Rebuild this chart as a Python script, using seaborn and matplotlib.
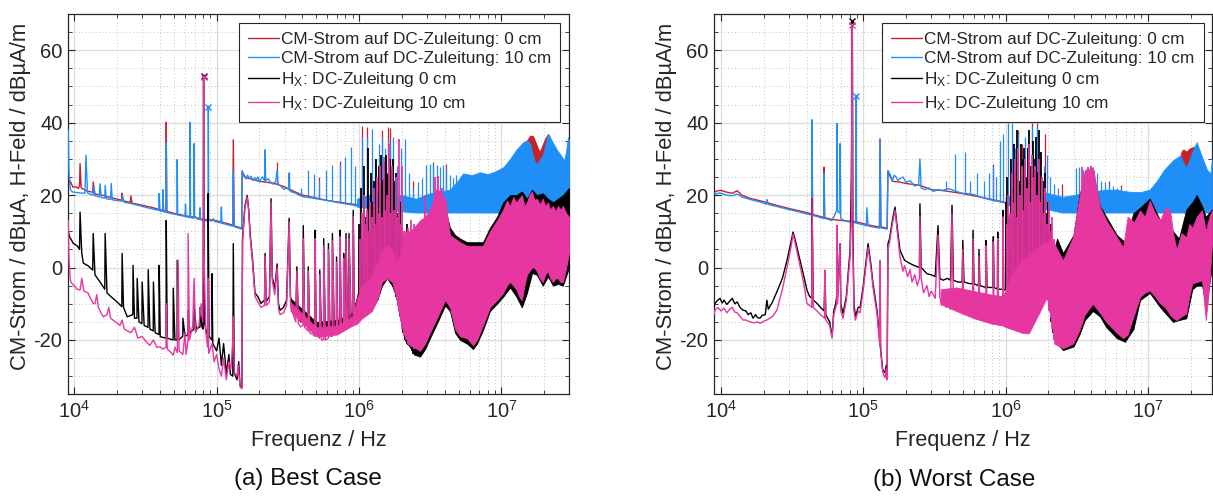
import numpy as np
import pandas as pd
import matplotlib
matplotlib.use("Agg")
import matplotlib.pyplot as plt
import seaborn as sns
from matplotlib.lines import Line2D
from matplotlib.ticker import LogLocator, MultipleLocator, NullFormatter

# ---------------------------------------------------------------- data
# (frequency in Hz, level in dB)
# ---- panel (a) Best Case
A_RED_LINE = [
    (9.08e3, 22.5), (9.4e3, 23.8), (9.8e3, 22.2), (1.03e4, 22.3), (1.07e4, 21.8), (1.09e4, 22.5),
    (1.10e4, 28.7), (1.12e4, 22.0), (1.2e4, 21.3), (1.27e4, 21.0), (1.35e4, 20.8), (1.36e4, 23.6),
    (1.4e4, 20.3), (1.6e4, 19.9), (1.8e4, 19.3), (2.0e4, 18.9), (2.16e4, 18.6), (2.17e4, 20.5),
    (2.2e4, 18.4), (2.48e4, 18.0), (2.5e4, 19.8), (2.55e4, 17.8), (3.0e4, 17.2), (3.5e4, 16.6),
    (4.0e4, 16.0), (4.41e4, 15.6), (4.43e4, 40.1), (4.47e4, 15.5), (5.0e4, 15.0), (6.0e4, 14.3),
    (7.0e4, 13.9), (8.0e4, 13.3), (9.0e4, 13.2), (1.0e5, 12.9), (1.2e5, 12.1), (1.3e5, 11.7),
    (1.31e5, 35.3), (1.33e5, 11.5), (1.46e5, 11.0), (1.5e5, 10.8), (1.51e5, 26.5), (1.6e5, 24.8),
    (1.8e5, 24.3), (2.0e5, 23.8), (2.5e5, 23.3), (3.0e5, 22.3), (3.5e5, 21.0), (4.0e5, 20.0),
    (5.0e5, 19.2), (6.0e5, 18.5), (8.0e5, 17.8), (9.7e5, 17.3),
]
A_RED_SPIKES = [  # (f, bottom, top)
    (2.66e5, 23.0, 29.1), (3.23e5, 22.0, 26.5), (5.2e5, 19.0, 25.0), (7.35e5, 18.0, 29.5),
    (1.05e6, 17.0, 39.0), (1.13e6, 17.0, 38.7), (1.44e6, 16.5, 38.0), (1.59e6, 16.3, 38.7),
    (1.65e6, 16.2, 38.5), (2.4e6, 15.5, 24.0), (3.3e6, 15.5, 29.0), (4.1e6, 15.5, 28.5),
]
A_RED_BAND = [  # (f, low, high)
    (1.46e7, 15.5, 34.5), (1.535e7, 15.5, 35.5), (1.585e7, 15.5, 36.4), (1.66e7, 15.5, 36.4),
    (1.72e7, 15.5, 35.0), (1.80e7, 15.5, 33.0), (1.86e7, 15.5, 32.0), (1.95e7, 15.5, 34.0),
    (2.02e7, 15.5, 35.5), (2.12e7, 15.5, 36.9), (2.19e7, 15.5, 36.0),
]
A_BLUE_LINE = [
    (9.08e3, 38.0), (9.2e3, 26.0), (9.4e3, 21.5), (9.7e3, 20.9), (1.0e4, 20.8), (1.1e4, 20.6),
    (1.19e4, 20.5), (1.21e4, 31.0), (1.24e4, 20.6), (1.3e4, 20.2), (1.36e4, 20.0), (1.37e4, 22.5),
    (1.4e4, 19.8), (1.5e4, 19.5), (1.52e4, 23.1), (1.55e4, 19.3), (1.64e4, 19.2), (1.65e4, 22.7),
    (1.68e4, 19.0), (1.8e4, 18.8), (1.82e4, 23.2), (1.85e4, 18.7), (2.0e4, 18.5), (2.17e4, 18.3),
    (2.18e4, 19.8), (2.25e4, 18.0), (2.5e4, 17.7), (2.8e4, 17.2), (3.2e4, 16.6), (3.6e4, 16.1),
    (3.93e4, 15.8), (3.95e4, 20.4), (4.0e4, 15.6), (4.18e4, 15.5), (4.2e4, 21.5), (4.25e4, 15.4),
    (4.41e4, 15.3), (4.43e4, 34.6), (4.47e4, 15.2), (4.8e4, 14.9), (5.27e4, 14.6), (5.29e4, 29.8),
    (5.33e4, 14.5), (5.7e4, 14.3), (6.0e4, 14.1), (6.05e4, 17.5), (6.1e4, 14.0), (6.5e4, 13.8),
    (6.52e4, 40.1), (6.56e4, 13.8), (6.93e4, 13.6), (6.95e4, 34.2), (7.0e4, 14.2), (7.3e4, 13.4),
    (7.6e4, 13.3), (7.65e4, 16.5), (7.7e4, 13.2), (8.0e4, 13.0), (8.4e4, 12.9), (8.73e4, 12.9),
    (8.75e4, 44.3), (8.8e4, 13.2), (9.2e4, 12.8), (9.5e4, 13.5), (9.7e4, 12.7), (1.01e5, 12.6),
    (1.07e5, 12.3), (1.08e5, 16.7), (1.09e5, 12.2), (1.15e5, 12.0), (1.22e5, 11.7), (1.3e5, 11.4),
    (1.31e5, 26.8), (1.32e5, 14.0), (1.33e5, 11.3), (1.4e5, 11.0), (1.46e5, 10.8), (1.5e5, 10.6),
    (1.51e5, 26.8), (1.55e5, 25.3), (1.6e5, 24.5), (1.65e5, 25.5), (1.7e5, 24.6), (1.75e5, 25.2),
    (1.8e5, 24.0), (1.85e5, 24.8), (1.9e5, 24.2), (1.95e5, 25.0), (2.0e5, 23.6), (2.05e5, 24.5),
    (2.1e5, 25.0), (2.17e5, 24.0), (2.19e5, 32.5), (2.21e5, 24.0), (2.3e5, 24.5), (2.4e5, 23.5),
    (2.5e5, 23.0), (2.6e5, 23.8), (2.66e5, 26.8), (2.7e5, 23.0), (2.8e5, 22.6), (2.9e5, 22.0),
    (3.0e5, 21.6), (3.1e5, 22.0), (3.22e5, 21.5), (3.23e5, 26.0), (3.26e5, 21.2), (3.4e5, 20.8),
    (3.6e5, 20.5), (3.8e5, 20.0), (4.0e5, 19.6), (4.5e5, 19.3), (5.0e5, 19.0), (6.0e5, 18.5),
    (7.0e5, 18.0), (8.0e5, 17.6), (9.0e5, 17.3), (9.7e5, 17.0),
]
A_BLUE_SPIKES = [
    (3.9e5, 19.8, 22.0), (4.4e5, 19.4, 26.8), (4.8e5, 19.2, 25.9), (5.2e5, 19.0, 24.0),
    (5.9e5, 18.6, 26.8), (6.5e5, 18.3, 28.2), (7.35e5, 18.0, 28.7), (8.0e5, 17.6, 30.5),
    (8.85e5, 17.3, 33.2), (9.3e5, 17.1, 28.0), (1.05e6, 17.0, 36.0), (1.13e6, 16.8, 36.0),
    (1.23e6, 16.6, 38.3), (1.29e6, 16.5, 30.0), (1.37e6, 16.4, 34.2), (1.44e6, 16.3, 36.0),
    (1.52e6, 16.2, 33.0), (1.59e6, 16.1, 35.0), (1.65e6, 16.0, 34.0), (1.73e6, 15.9, 36.0),
    (1.85e6, 15.8, 28.0), (1.98e6, 15.6, 33.0), (2.1e6, 15.5, 35.5), (2.26e6, 15.4, 26.0),
    (2.4e6, 15.3, 22.0), (2.6e6, 15.2, 23.6), (2.75e6, 15.2, 24.7), (2.97e6, 15.2, 28.2),
    (3.15e6, 15.2, 28.7), (3.33e6, 15.2, 28.7), (3.5e6, 15.2, 28.2), (3.7e6, 15.2, 27.7),
    (3.9e6, 15.2, 28.2), (4.1e6, 15.2, 27.5), (4.35e6, 15.2, 25.5), (4.6e6, 15.2, 24.7),
    (4.8e6, 15.2, 25.5),
]
A_BLUE_BAND = [
    (9.68e5, 16.8, 19.0), (1.4e6, 16.0, 21.0), (2.0e6, 15.5, 20.0), (2.51e6, 15.2, 19.0),
    (3.15e6, 15.2, 20.5), (4.35e6, 15.2, 21.5), (4.95e6, 15.2, 24.0), (5.37e6, 15.2, 26.0),
    (6.2e6, 15.2, 25.5), (7.07e6, 15.2, 26.3), (8.0e6, 15.2, 25.8), (9.0e6, 15.2, 26.5),
    (1.03e7, 15.2, 27.7), (1.15e7, 15.2, 30.0), (1.27e7, 15.2, 32.5), (1.42e7, 15.2, 34.6),
    (1.535e7, 15.2, 35.0), (1.60e7, 15.2, 34.0), (1.66e7, 15.2, 31.0), (1.72e7, 15.2, 29.0),
    (1.80e7, 15.2, 28.7), (1.86e7, 15.2, 30.0), (1.95e7, 15.2, 31.0), (2.02e7, 15.2, 33.5),
    (2.12e7, 15.2, 36.9), (2.26e7, 15.2, 35.0), (2.45e7, 15.2, 32.5), (2.57e7, 15.2, 31.4),
    (2.75e7, 15.2, 29.6), (2.84e7, 15.2, 32.0), (2.93e7, 15.2, 36.0), (3.0e7, 15.2, 35.0),
]
A_BLACK_LINE = [
    (9.08e3, 10.0), (9.3e3, 8.4), (9.6e3, 7.5), (9.84e3, 6.7), (1.05e4, 6.0), (1.09e4, 5.0),
    (1.10e4, 15.3), (1.13e4, 4.0), (1.16e4, 1.2), (1.25e4, 0.5), (1.35e4, -0.7), (1.36e4, 9.4),
    (1.4e4, -2.0), (1.52e4, -4.0), (1.64e4, -6.0), (1.65e4, 9.4), (1.7e4, -7.0), (1.82e4, -8.1),
    (2.0e4, -9.5), (2.16e4, -10.8), (2.17e4, 3.9), (2.22e4, -11.0), (2.36e4, -13.6), (2.58e4, -13.0),
    (2.59e4, 0.6), (2.65e4, -14.0), (2.76e4, -14.0), (2.77e4, -3.0), (2.85e4, -15.0), (2.99e4, -15.5),
    (3.0e4, -4.0), (3.1e4, -16.0), (3.3e4, -16.5), (3.31e4, -0.6), (3.4e4, -17.0), (3.59e4, -17.5),
    (3.6e4, -4.0), (3.7e4, -18.0), (3.94e4, -18.5), (3.95e4, 0.6), (4.02e4, -19.1), (4.42e4, -19.5),
    (4.43e4, 13.0), (4.5e4, -19.5), (4.95e4, -20.0), (4.96e4, -5.7), (5.1e4, -20.0), (5.28e4, -20.0),
    (5.29e4, 2.0), (5.4e4, -20.0), (5.79e4, -19.0), (5.8e4, -14.0), (6.0e4, -19.0), (6.3e4, -18.5),
    (6.31e4, -11.8), (6.5e4, -18.0), (6.94e4, -17.0), (6.95e4, -10.5), (7.2e4, -17.0), (7.65e4, -16.4),
    (7.66e4, -11.0), (7.9e4, -16.5), (8.05e4, -17.0), (8.1e4, 53.0), (8.2e4, -15.0), (8.5e4, -18.0),
    (8.7e4, -18.5), (8.72e4, 20.4), (8.85e4, -19.0), (9.28e4, -20.0), (9.29e4, -1.7), (9.4e4, -21.0),
    (1.0e5, -23.0), (1.04e5, -19.5), (1.08e5, -27.0), (1.12e5, -21.0), (1.17e5, -29.2), (1.22e5, -24.0),
    (1.25e5, -29.5), (1.3e5, -30.0), (1.31e5, 6.6), (1.33e5, -29.0), (1.39e5, -31.0), (1.43e5, -26.0),
    (1.46e5, -32.5), (1.505e5, -33.0),
    (1.52e5, 8.0), (1.58e5, 17.0), (1.64e5, 19.9), (1.68e5, 16.0), (1.72e5, 9.3), (1.79e5, 2.0),
    (1.86e5, -7.0), (1.95e5, -8.1), (2.05e5, -9.9), (2.17e5, -9.0), (2.19e5, 3.9), (2.23e5, -9.4),
    (2.35e5, -8.0), (2.41e5, 19.0), (2.46e5, -2.6), (2.56e5, -6.0), (2.66e5, 1.0), (2.72e5, -10.0),
    (2.79e5, -11.8), (2.95e5, -11.0), (3.1e5, -9.0), (3.23e5, 13.6), (3.3e5, -8.0), (3.45e5, -11.8),
    (3.6e5, -13.6), (3.66e5, 0.2), (3.75e5, -14.0), (3.9e5, -15.0), (4.05e5, -14.5), (4.06e5, 11.6),
    (4.15e5, -15.0), (4.39e5, -16.0), (4.4e5, 0.2), (4.5e5, -16.4), (4.75e5, -17.0), (4.89e5, -17.3),
    (4.9e5, 10.3), (5.0e5, -17.0), (5.29e5, -18.0), (5.3e5, -0.7), (5.45e5, -18.5), (5.64e5, -19.0),
    (5.65e5, 8.0), (5.8e5, -19.0), (6.09e5, -18.5), (6.1e5, 6.6), (6.25e5, -18.0), (6.49e5, -18.0),
    (6.5e5, 9.4), (6.7e5, -17.5), (6.94e5, -17.0), (6.95e5, 2.9), (7.1e5, -17.0), (7.34e5, -16.5),
    (7.35e5, 10.3), (7.5e5, -16.5), (7.79e5, -16.0), (7.8e5, 3.9), (7.95e5, -16.0), (8.09e5, -15.5),
    (8.1e5, 9.4), (8.3e5, -15.5), (8.49e5, -15.0), (8.5e5, 9.4), (8.8e5, -15.0), (9.09e5, -14.5),
    (9.1e5, 15.8), (9.3e5, -14.5), (9.68e5, -14.0),
]
A_BLACK_FOREST = [  # dense comb 1-2.4 MHz: (f, bottom, top)
    (1.00e6, -13.5, 12.0), (1.03e6, -13.0, 22.0), (1.06e6, -13.0, 8.0), (1.09e6, -12.5, 28.0),
    (1.12e6, -12.0, 14.0), (1.15e6, -12.0, 33.0), (1.18e6, -11.5, 10.0), (1.21e6, -11.0, 26.0),
    (1.25e6, -10.5, 18.0), (1.28e6, -10.0, 24.0), (1.32e6, -9.5, 30.0), (1.35e6, -9.0, 16.0),
    (1.39e6, -7.5, 28.0), (1.43e6, -6.0, 31.0), (1.47e6, -4.5, 20.0), (1.51e6, -4.0, 29.0),
    (1.55e6, -3.5, 31.0), (1.59e6, -3.0, 22.0), (1.64e6, -3.5, 30.0), (1.68e6, -4.5, 27.0),
    (1.73e6, -5.5, 30.0), (1.78e6, -6.5, 24.0), (1.83e6, -8.0, 26.0), (1.88e6, -10.0, 15.0),
    (1.93e6, -13.5, 18.0), (1.99e6, -16.0, 10.0), (2.04e6, -18.0, 8.0), (2.10e6, -20.0, 6.0),
    (2.16e6, -21.0, 12.0), (2.22e6, -21.5, 4.0), (2.28e6, -22.0, 6.0), (2.35e6, -23.0, 3.0),
    (2.41e6, -24.0, 4.0),
]
A_BLACK_BAND = [
    (3.3e5, -11.0, -8.5), (5.0e5, -17.5, -15.0), (7.0e5, -17.0, -14.5), (9.0e5, -15.0, -12.5),
    (9.68e5, -14.0, -8.0), (1.05e6, -13.0, -2.0), (1.14e6, -12.0, 2.0), (1.23e6, -11.0, 6.0),
    (1.34e6, -9.0, 15.0), (1.45e6, -5.0, 24.0), (1.57e6, -3.0, 26.0), (1.71e6, -5.0, 24.0),
    (1.82e6, -8.0, 14.0), (1.94e6, -14.0, 2.0), (2.10e6, -20.0, 4.0), (2.28e6, -22.0, 6.0),
    (2.43e6, -24.0, 4.0), (2.68e6, -24.6, 4.0), (2.91e6, -22.5, 8.0), (3.15e6, -19.5, 12.0),
    (3.52e6, -15.5, 14.0), (4.02e6, -10.5, 16.0), (4.35e6, -12.0, 11.0), (4.72e6, -18.0, 9.0),
    (5.12e6, -20.0, 8.0), (5.73e6, -21.0, 7.0), (6.31e6, -22.5, 7.0), (6.73e6, -21.0, 7.0),
    (7.41e6, -17.3, 7.0), (8.30e6, -12.0, 11.0), (9.30e6, -10.0, 14.0), (1.03e7, -8.0, 18.0),
    (1.15e7, -5.5, 20.0), (1.27e7, -8.0, 20.0), (1.39e7, -11.0, 21.0), (1.51e7, -7.0, 19.0),
    (1.64e7, -1.5, 21.5), (1.77e7, -2.0, 20.0), (1.95e7, -5.0, 20.5), (2.12e7, -2.5, 19.0),
    (2.30e7, -5.0, 18.0), (2.49e7, -4.5, 19.0), (2.70e7, -5.0, 20.0), (2.98e7, 0.0, 22.0),
]
A_PINK_LINE = [
    (9.08e3, 13.0), (9.2e3, 2.0), (9.4e3, -3.5), (9.6e3, -4.3), (1.0e4, -5.0), (1.05e4, -6.0),
    (1.1e4, -6.2), (1.13e4, -3.0), (1.17e4, -6.5), (1.25e4, -7.0), (1.3e4, -8.5), (1.36e4, -9.9),
    (1.4e4, -10.0), (1.44e4, -7.5), (1.48e4, -11.0), (1.52e4, -12.0), (1.6e4, -13.6), (1.7e4, -13.0),
    (1.75e4, -11.0), (1.8e4, -14.0), (1.95e4, -15.0), (2.1e4, -16.0), (2.17e4, -14.5), (2.25e4, -17.0),
    (2.5e4, -18.0), (2.65e4, -16.5), (2.8e4, -19.5), (3.0e4, -19.0), (3.2e4, -20.5), (3.4e4, -21.5),
    (3.6e4, -20.0), (3.8e4, -22.0), (4.0e4, -21.9), (4.2e4, -22.5), (4.42e4, -22.0), (4.43e4, -10.0),
    (4.5e4, -22.5), (4.8e4, -23.5), (4.96e4, -24.2), (5.1e4, -22.0), (5.3e4, -23.5), (5.37e4, 2.0),
    (5.45e4, -23.0), (5.8e4, -24.0), (6.0e4, -18.0), (6.1e4, -24.0), (6.3e4, -20.0), (6.31e4, 9.4),
    (6.45e4, -20.0), (6.8e4, -16.0), (6.95e4, -3.0), (7.1e4, -18.0), (7.5e4, -16.0), (7.8e4, -10.0),
    (8.0e4, -15.0), (8.07e4, 13.0), (8.1e4, 52.7), (8.15e4, 5.0), (8.4e4, -18.0), (8.65e4, -22.0),
    (8.7e4, -3.0), (8.8e4, -23.7), (9.3e4, -21.0), (9.6e4, -26.0), (1.0e5, -24.0), (1.04e5, -28.0),
    (1.08e5, -30.0), (1.12e5, -25.0), (1.17e5, -31.0), (1.22e5, -26.0), (1.26e5, -28.0), (1.3e5, -20.0),
    (1.31e5, -13.6), (1.33e5, -29.0), (1.39e5, -30.0), (1.42e5, -27.0), (1.46e5, -32.9), (1.505e5, -33.5),
    (1.52e5, 7.0), (1.58e5, 16.5), (1.64e5, 19.5), (1.68e5, 15.5), (1.72e5, 8.5), (1.79e5, 1.0),
    (1.86e5, -8.0), (1.95e5, -9.5), (2.05e5, -11.0), (2.17e5, -10.5), (2.19e5, 3.0), (2.23e5, -10.5),
    (2.35e5, -9.5), (2.41e5, 18.0), (2.46e5, -3.5), (2.56e5, -7.5), (2.66e5, 0.0), (2.72e5, -11.5),
    (2.79e5, -13.0), (2.95e5, -12.5), (3.1e5, -10.5), (3.23e5, 12.5), (3.3e5, -9.5), (3.45e5, -13.0),
    (3.6e5, -15.0), (3.66e5, -1.0), (3.75e5, -15.5), (3.9e5, -16.4), (4.05e5, -16.0), (4.06e5, 8.0),
    (4.15e5, -16.5), (4.39e5, -17.5), (4.4e5, -1.0), (4.5e5, -18.0), (4.75e5, -18.5), (4.89e5, -19.0),
    (4.9e5, 8.0), (5.0e5, -18.5), (5.29e5, -19.5), (5.3e5, -2.0), (5.45e5, -20.0), (5.64e5, -20.0),
    (5.65e5, 6.0), (5.8e5, -20.0), (6.09e5, -19.5), (6.1e5, 5.0), (6.25e5, -19.0), (6.49e5, -19.0),
    (6.5e5, 7.5), (6.7e5, -18.5), (6.94e5, -18.0), (6.95e5, 1.5), (7.1e5, -18.0), (7.34e5, -17.5),
    (7.35e5, 8.5), (7.5e5, -17.5), (7.79e5, -17.0), (7.8e5, 2.5), (7.95e5, -17.0), (8.09e5, -16.5),
    (8.1e5, 8.0), (8.3e5, -16.5), (8.49e5, -16.0), (8.5e5, 8.0), (8.8e5, -16.0), (9.09e5, -15.5),
    (9.1e5, 14.0), (9.3e5, -15.5), (9.68e5, -15.5),
]
A_PINK_FOREST = [
    (1.015e6, -14.5, 8.0), (1.045e6, -14.0, 15.0), (1.075e6, -13.5, 20.0), (1.105e6, -13.0, 12.0),
    (1.135e6, -13.0, 16.0), (1.165e6, -12.5, 10.0), (1.195e6, -12.0, 18.0), (1.23e6, -12.0, 14.0),
    (1.265e6, -11.0, 22.0), (1.30e6, -10.0, 12.0), (1.335e6, -9.0, 25.0), (1.37e6, -8.0, 15.0),
    (1.41e6, -6.0, 28.0), (1.45e6, -4.0, 14.0), (1.49e6, -3.5, 30.5), (1.53e6, -3.0, 16.0),
    (1.57e6, -3.0, 20.0), (1.615e6, -3.0, 34.0), (1.66e6, -3.5, 15.0), (1.705e6, -4.0, 28.0),
    (1.755e6, -5.0, 16.0), (1.805e6, -6.5, 25.0), (1.855e6, -8.0, 14.0), (1.905e6, -11.0, 35.5),
    (1.96e6, -14.0, 12.0), (2.015e6, -17.0, 28.0), (2.07e6, -19.0, 10.0), (2.13e6, -20.0, 9.0),
    (2.19e6, -21.0, 11.0), (2.25e6, -21.5, 8.0), (2.315e6, -22.0, 13.0), (2.38e6, -22.0, 10.0),
    (2.45e6, -22.5, 12.0), (2.9e6, 0.0, 20.0), (3.4e6, 0.0, 25.0), (3.6e6, 0.0, 25.4),
    (3.85e6, 0.0, 22.0),
]
A_PINK_BAND = [
    (3.3e5, -12.0, -9.5), (5.0e5, -19.0, -16.5), (7.0e5, -18.5, -16.0), (9.0e5, -16.0, -13.5),
    (9.68e5, -15.5, -8.5), (1.05e6, -14.0, -5.0), (1.14e6, -13.0, -4.0), (1.23e6, -12.0, -2.0),
    (1.34e6, -9.0, 1.0), (1.45e6, -4.0, 5.0), (1.57e6, -3.0, 6.0), (1.71e6, -4.0, 5.0),
    (1.82e6, -8.0, 1.0), (1.94e6, -14.0, 4.0), (2.10e6, -19.0, 10.0), (2.28e6, -21.0, 10.0),
    (2.43e6, -22.0, 11.0), (2.68e6, -23.0, 13.0), (2.91e6, -21.0, 14.0), (3.15e6, -18.0, 16.0),
    (3.52e6, -14.0, 22.0), (4.02e6, -9.0, 19.0), (4.35e6, -11.0, 9.0), (4.72e6, -17.0, 8.0),
    (5.12e6, -19.0, 7.0), (5.73e6, -19.5, 6.0), (6.31e6, -21.5, 6.0), (6.73e6, -20.0, 6.0),
    (7.41e6, -16.0, 6.0), (8.30e6, -11.0, 10.0), (9.30e6, -9.0, 13.0), (1.03e7, -7.0, 16.0),
    (1.09e7, -5.0, 18.5), (1.15e7, -4.0, 17.0), (1.21e7, -5.0, 19.5), (1.27e7, -6.0, 18.0),
    (1.33e7, -8.0, 19.0), (1.39e7, -9.0, 20.0), (1.45e7, -5.0, 17.0), (1.51e7, -2.0, 18.0),
    (1.57e7, -1.0, 20.0), (1.64e7, 0.0, 21.0), (1.70e7, 0.0, 18.5), (1.77e7, -1.0, 19.0),
    (1.86e7, -3.0, 17.5), (1.95e7, -4.0, 19.0), (2.03e7, -2.0, 17.0), (2.12e7, -1.0, 18.0),
    (2.20e7, -3.0, 16.0), (2.30e7, -4.0, 17.0), (2.40e7, -3.0, 15.5), (2.49e7, -3.0, 17.0),
    (2.60e7, -4.0, 16.0), (2.70e7, -4.0, 17.0), (2.85e7, 0.0, 15.0), (2.98e7, 4.0, 14.0),
]
A_MARKS = [("black", 8.1e4, 53.0), ("pink", 8.1e4, 52.7), ("blue", 8.75e4, 44.3)]

# ---- panel (b) Worst Case
B_RED_LINE = [
    (8.93e3, 20.8), (9.5e3, 21.2), (1.0e4, 21.3), (1.1e4, 20.8), (1.2e4, 20.5), (1.3e4, 21.2),
    (1.4e4, 20.0), (1.6e4, 19.1), (1.9e4, 18.4), (2.5e4, 17.1), (3.0e4, 16.3), (3.6e4, 15.6),
    (4.35e4, 14.8), (4.36e4, 40.0), (4.4e4, 14.7), (5.29e4, 13.8), (5.3e4, 27.7), (5.35e4, 13.8),
    (6.0e4, 13.3), (7.0e4, 13.0), (8.0e4, 12.8), (9.0e4, 12.6), (1.0e5, 12.1), (1.2e5, 11.4),
    (1.3e5, 11.2), (1.31e5, 35.5), (1.33e5, 11.2), (1.47e5, 10.9), (1.49e5, 26.5), (1.6e5, 23.8),
    (1.8e5, 23.6), (2.0e5, 23.2), (2.5e5, 22.7), (3.0e5, 21.5), (3.5e5, 21.3), (4.0e5, 21.0),
    (5.0e5, 20.4), (6.0e5, 19.8), (8.0e5, 18.8), (1.0e6, 17.9),
]
B_RED_SPIKES = [
    (8.2e5, 18.5, 28.7), (1.22e6, 17.3, 38.0), (1.3e6, 17.2, 34.0), (1.44e6, 17.0, 34.5),
    (1.53e6, 16.9, 40.0), (1.67e6, 16.7, 40.0), (1.9e6, 16.5, 37.0), (2.5e6, 16.0, 23.0),
    (5.3e6, 15.5, 24.0), (6.5e6, 15.5, 22.8),
]
B_RED_BAND = [
    (1.7e7, 15.5, 31.4), (1.75e7, 15.5, 32.5), (1.8e7, 15.5, 32.5), (1.86e7, 15.5, 32.0),
    (1.95e7, 15.5, 32.8), (2.05e7, 15.5, 33.2), (2.12e7, 15.5, 33.4),
]
B_BLUE_LINE = [
    (8.93e3, 20.5), (9.3e3, 20.3), (9.7e3, 20.6), (1.0e4, 20.5), (1.05e4, 20.2), (1.1e4, 20.0),
    (1.2e4, 19.8), (1.3e4, 20.3), (1.4e4, 19.5), (1.6e4, 18.8), (1.88e4, 18.1), (2.09e4, 17.5),
    (2.1e4, 18.8), (2.15e4, 17.4), (2.5e4, 16.8), (3.0e4, 16.0), (3.6e4, 15.3), (4.0e4, 14.8),
    (4.35e4, 14.5), (4.36e4, 40.8), (4.4e4, 14.4), (4.8e4, 14.0), (5.29e4, 13.5), (5.3e4, 26.0),
    (5.35e4, 13.6), (6.0e4, 13.0), (6.3e4, 14.5), (6.52e4, 16.0), (6.53e4, 39.8), (6.6e4, 15.5),
    (6.85e4, 15.0), (6.86e4, 34.2), (6.95e4, 13.5), (7.5e4, 12.8), (8.0e4, 12.6), (8.3e4, 12.5),
    (8.88e4, 12.3), (8.89e4, 47.3), (8.95e4, 12.3), (9.5e4, 12.0), (1.0e5, 11.8), (1.05e5, 11.5),
    (1.06e5, 16.5), (1.08e5, 11.5), (1.2e5, 11.1), (1.3e5, 10.9), (1.31e5, 35.5), (1.33e5, 10.9),
    (1.4e5, 10.8), (1.47e5, 10.6), (1.49e5, 26.8), (1.55e5, 25.5), (1.6e5, 24.0), (1.65e5, 25.5),
    (1.7e5, 25.0), (1.75e5, 24.0), (1.8e5, 24.5), (1.9e5, 25.0), (2.0e5, 23.5), (2.13e5, 24.0),
    (2.3e5, 22.5), (2.45e5, 23.0), (2.5e5, 30.0), (2.55e5, 22.0), (2.7e5, 21.5), (2.9e5, 22.0),
    (3.1e5, 21.0), (3.35e5, 21.5), (3.6e5, 21.3), (4.0e5, 21.8), (4.5e5, 21.0), (5.0e5, 20.5),
    (5.9e5, 20.2), (7.0e5, 19.2), (8.0e5, 18.6), (9.1e5, 18.2), (1.0e6, 17.8),
]
B_BLUE_SPIKES = [
    (3.8e5, 21.0, 24.0), (4.4e5, 21.0, 31.4), (5.2e5, 20.5, 31.9), (5.6e5, 20.3, 24.0),
    (6.3e5, 20.0, 26.0), (7.0e5, 19.2, 24.0), (7.7e5, 18.8, 26.0), (8.2e5, 18.5, 28.0),
    (8.6e5, 18.4, 25.0), (9.1e5, 18.2, 35.0), (9.6e5, 18.0, 37.0), (1.04e6, 17.6, 40.0),
    (1.1e6, 17.5, 40.0), (1.16e6, 17.4, 33.0), (1.22e6, 17.3, 37.0), (1.3e6, 17.2, 30.0),
    (1.37e6, 17.0, 36.0), (1.44e6, 17.0, 34.0), (1.53e6, 16.9, 39.0), (1.6e6, 16.8, 33.0),
    (1.67e6, 16.7, 39.0), (1.75e6, 16.7, 32.0), (1.85e6, 16.5, 28.0), (1.95e6, 16.3, 31.0),
    (2.05e6, 16.2, 25.0), (2.2e6, 16.0, 23.0), (2.35e6, 15.8, 22.0), (3.1e6, 15.2, 27.5),
    (3.3e6, 15.2, 27.7), (3.5e6, 15.2, 27.0), (3.7e6, 15.2, 27.3), (3.9e6, 15.2, 27.7),
    (4.15e6, 15.2, 27.0), (4.4e6, 15.2, 26.0), (4.7e6, 15.2, 24.0), (5.0e6, 15.2, 23.5),
    (5.3e6, 15.2, 23.0), (5.7e6, 15.2, 22.5), (6.1e6, 15.2, 22.0), (6.5e6, 15.2, 22.0),
    (7.0e6, 15.2, 21.5),
]
B_BLUE_BAND = [
    (1.0e6, 17.2, 19.5), (1.5e6, 16.6, 21.0), (2.0e6, 16.0, 20.5), (2.5e6, 15.2, 19.5),
    (3.0e6, 15.2, 20.0), (4.0e6, 15.2, 21.0), (5.0e6, 15.2, 21.5), (6.0e6, 15.2, 21.5),
    (7.0e6, 15.2, 21.0), (8.8e6, 15.2, 20.8), (1.03e7, 15.2, 21.5), (1.16e7, 15.2, 24.0),
    (1.3e7, 15.2, 27.0), (1.5e7, 15.2, 29.6), (1.7e7, 15.2, 31.0), (1.75e7, 15.2, 29.5),
    (1.8e7, 15.2, 28.5), (1.86e7, 15.2, 27.7), (1.95e7, 15.2, 29.5), (2.05e7, 15.2, 32.0),
    (2.2e7, 15.2, 34.6), (2.4e7, 15.2, 30.5), (2.6e7, 15.2, 27.0), (2.75e7, 15.2, 26.0),
    (2.82e7, 15.2, 30.0),
]
B_BLACK_LINE = [
    (8.93e3, -11.0), (9.07e3, -9.9), (9.5e3, -9.0), (9.84e3, -8.5), (1.02e4, -9.8), (1.05e4, -9.0),
    (1.1e4, -10.2), (1.15e4, -9.3), (1.2e4, -8.5), (1.25e4, -10.0), (1.3e4, -9.5), (1.36e4, -11.0),
    (1.43e4, -11.8), (1.5e4, -12.0), (1.55e4, -13.0), (1.62e4, -12.5), (1.68e4, -14.0), (1.75e4, -13.0),
    (1.8e4, -13.8), (1.88e4, -14.0), (1.95e4, -13.2), (2.05e4, -13.0), (2.1e4, -9.0), (2.15e4, -11.5),
    (2.3e4, -9.5), (2.47e4, -6.7), (2.7e4, -3.0), (2.91e4, 2.0), (3.1e4, 7.0), (3.21e4, 9.8),
    (3.35e4, 7.0), (3.59e4, 2.0), (3.8e4, -2.0), (4.02e4, -6.3), (4.2e4, -8.0), (4.35e4, -8.5),
    (4.36e4, 19.0), (4.45e4, -9.0), (4.73e4, -9.9), (5.0e4, -11.0), (5.3e4, -12.0), (5.38e4, -1.0),
    (5.45e4, -13.0), (5.8e4, -15.0), (6.03e4, -19.1), (6.2e4, -12.0), (6.4e4, -10.0), (6.5e4, -8.0),
    (6.53e4, 11.6), (6.6e4, -8.0), (6.86e4, 6.6), (6.95e4, -10.0), (7.2e4, -12.7), (7.6e4, -8.0),
    (8.07e4, 4.8), (8.25e4, 25.0), (8.37e4, 68.1), (8.45e4, 10.0), (8.6e4, -10.0), (8.8e4, -13.6),
    (9.2e4, -11.0), (9.5e4, -11.0), (1.0e5, -5.0), (1.08e5, 6.6), (1.13e5, 1.0), (1.17e5, -4.4),
    (1.25e5, -12.0), (1.31e5, -20.9), (1.37e5, -28.3), (1.42e5, -29.0), (1.45e5, -27.0), (1.47e5, -30.1),
    (1.49e5, 6.6), (1.53e5, 8.0), (1.6e5, 13.0), (1.67e5, 16.7), (1.72e5, 12.0), (1.81e5, 4.8),
    (1.95e5, 2.0), (2.13e5, 1.1), (2.3e5, 0.5), (2.48e5, 0.0), (2.5e5, 17.6), (2.55e5, 0.0),
    (2.8e5, -1.7), (3.0e5, -2.0), (3.2e5, -2.5), (3.35e5, 11.6), (3.45e5, -3.0), (3.63e5, -3.5),
    (3.9e5, -3.0), (4.1e5, -3.5), (4.2e5, 17.2), (4.3e5, -3.5), (4.6e5, -4.0), (4.95e5, -4.0),
    (5.0e5, 7.5), (5.1e5, -4.0), (5.5e5, -4.4), (5.85e5, -4.5), (5.9e5, 10.3), (6.0e5, -4.5),
    (6.45e5, -5.0), (6.5e5, 5.0), (6.6e5, -5.0), (7.25e5, -5.5), (7.3e5, 7.5), (7.4e5, -5.5),
    (8.15e5, -5.5), (8.2e5, 8.5), (8.3e5, -5.5), (8.75e5, -6.0), (8.8e5, 9.8), (8.9e5, -6.0),
    (9.55e5, -6.0), (9.6e5, 15.8), (9.7e5, -6.3), (1.0e6, -6.0),
]
B_BLACK_FOREST = [
    (1.00e6, -6.0, 18.0), (1.03e6, -5.8, 25.0), (1.06e6, -5.5, 14.0), (1.09e6, -5.0, 30.0),
    (1.12e6, -4.5, 22.0), (1.15e6, -4.0, 34.0), (1.18e6, -3.5, 27.0), (1.21e6, -3.0, 38.0),
    (1.25e6, -2.0, 24.0), (1.28e6, -1.0, 34.0), (1.32e6, 0.0, 30.0), (1.35e6, 1.0, 33.0),
    (1.39e6, 2.0, 25.0), (1.43e6, 3.0, 33.0), (1.47e6, 3.5, 38.0), (1.51e6, 4.0, 28.0),
    (1.55e6, 4.5, 35.0), (1.59e6, 5.0, 30.0), (1.64e6, 5.0, 36.0), (1.68e6, 4.5, 26.0),
    (1.73e6, 3.5, 38.0), (1.78e6, 2.0, 32.0), (1.83e6, 0.0, 24.0), (1.88e6, -3.0, 26.0),
    (1.93e6, -6.0, 15.0), (1.99e6, -9.0, 18.0), (2.04e6, -12.0, 10.0), (2.10e6, -15.0, 12.0),
    (2.16e6, -18.0, 6.0), (2.22e6, -20.0, 5.0),
]
B_BLACK_BAND = [
    (1.0e6, -6.0, -2.0),
    (1.1e6, -5.0, 6.0), (1.2e6, -3.0, 16.0), (1.3e6, 0.0, 22.0), (1.45e6, 3.0, 25.0),
    (1.6e6, 5.0, 27.0), (1.75e6, 3.0, 25.0), (1.9e6, -5.0, 12.0), (2.1e6, -15.0, 2.0),
    (2.3e6, -21.0, 8.0), (2.53e6, -22.8, 4.0), (3.0e6, -21.8, 9.0), (3.3e6, -18.5, 20.0),
    (3.6e6, -14.5, 25.0), (4.1e6, -12.0, 26.0), (4.6e6, -13.5, 17.0), (5.1e6, -16.5, 14.0),
    (6.04e6, -19.5, 9.0), (6.9e6, -20.5, 7.0), (7.9e6, -17.0, 15.0), (8.8e6, -9.0, 16.5),
    (1.03e7, -7.0, 19.0), (1.22e7, -11.0, 13.0), (1.5e7, -15.0, 10.0), (1.65e7, -14.5, 8.0),
    (1.86e7, -14.0, 16.0), (2.05e7, -6.0, 18.0), (2.2e7, -5.0, 20.0), (2.4e7, -5.0, 17.0),
    (2.55e7, -10.0, 14.0), (2.82e7, 0.0, 16.0),
]
B_PINK_LINE = [
    (8.93e3, -13.0), (9.07e3, -11.8), (9.5e3, -11.0), (1.0e4, -12.0), (1.05e4, -11.2), (1.1e4, -12.5),
    (1.15e4, -11.5), (1.2e4, -11.0), (1.25e4, -12.3), (1.3e4, -12.5), (1.36e4, -13.5), (1.43e4, -14.5),
    (1.5e4, -14.5), (1.6e4, -15.0), (1.7e4, -15.3), (1.8e4, -15.0), (1.88e4, -15.4), (2.0e4, -14.8),
    (2.1e4, -14.5), (2.3e4, -13.5), (2.47e4, -11.8), (2.7e4, -6.0), (2.91e4, 0.0), (3.1e4, 5.5),
    (3.21e4, 9.2), (3.35e4, 6.0), (3.59e4, 0.5), (3.8e4, -4.0), (4.02e4, -9.9), (4.2e4, -10.5),
    (4.35e4, -11.0), (4.36e4, 19.0), (4.45e4, -11.0), (4.73e4, -12.0), (5.0e4, -13.0), (5.35e4, -14.0),
    (5.38e4, -0.7), (5.45e4, -14.5), (5.8e4, -16.0), (6.03e4, -19.5), (6.2e4, -13.0), (6.4e4, -11.0),
    (6.5e4, -10.0), (6.53e4, 11.6), (6.6e4, -10.0), (6.86e4, 6.6), (6.95e4, -12.0), (7.2e4, -14.0),
    (7.6e4, -9.0), (8.07e4, 3.0), (8.25e4, 15.0), (8.37e4, 67.0), (8.45e4, 5.0), (8.6e4, -12.0),
    (8.8e4, -14.5), (9.2e4, -12.0), (9.5e4, -12.5), (1.0e5, -6.0), (1.08e5, 5.5), (1.13e5, 0.0),
    (1.17e5, -5.5), (1.25e5, -13.0), (1.3e5, -21.0), (1.31e5, 2.0), (1.33e5, -24.0), (1.37e5, -29.0),
    (1.42e5, -30.5), (1.45e5, -28.0), (1.47e5, -31.0), (1.49e5, 5.0), (1.53e5, 7.0), (1.6e5, 12.0),
    (1.67e5, 15.8), (1.72e5, 11.0), (1.81e5, 3.0), (1.9e5, -1.0), (1.95e5, 0.5), (2.05e5, -2.5),
    (2.13e5, -0.6), (2.2e5, -4.0), (2.3e5, -2.0), (2.4e5, -5.0), (2.48e5, -3.0), (2.5e5, 14.0),
    (2.55e5, -3.0), (2.65e5, -7.0), (2.8e5, -5.0), (2.9e5, -8.0), (3.0e5, -6.5), (3.2e5, -8.5),
    (3.35e5, 9.0), (3.45e5, -8.0), (3.55e5, -10.5), (3.63e5, -9.0), (3.8e5, -11.0), (3.9e5, -9.9),
    (4.1e5, -11.5), (4.2e5, 15.0), (4.3e5, -10.8), (4.6e5, -12.0), (4.95e5, -11.5), (5.0e5, 5.0),
    (5.1e5, -12.5), (5.5e5, -13.0), (5.85e5, -13.5), (5.9e5, 8.0), (6.0e5, -13.6), (6.45e5, -14.0),
    (6.5e5, 3.0), (6.6e5, -14.2), (7.25e5, -14.5), (7.3e5, 6.0), (7.4e5, -14.5), (8.15e5, -15.0),
    (8.2e5, 7.0), (8.3e5, -15.0), (8.75e5, -15.5), (8.8e5, 8.0), (8.9e5, -15.5), (9.55e5, -16.0),
    (9.6e5, 14.0), (9.7e5, -16.0), (1.0e6, -16.4),
]
B_PINK_FOREST = [
    (1.015e6, -16.5, 12.0), (1.045e6, -16.7, 20.0), (1.075e6, -16.9, 15.0), (1.105e6, -17.0, 26.0),
    (1.135e6, -17.2, 18.0), (1.165e6, -17.4, 30.0), (1.195e6, -17.5, 14.0), (1.23e6, -17.7, 33.0),
    (1.265e6, -17.8, 20.0), (1.30e6, -18.0, 28.0), (1.335e6, -18.1, 16.0), (1.37e6, -18.2, 30.0),
    (1.41e6, -18.2, 22.0), (1.45e6, -18.2, 34.0), (1.49e6, -17.5, 18.0), (1.53e6, -16.5, 31.0),
    (1.57e6, -15.5, 25.0), (1.615e6, -14.5, 28.0), (1.66e6, -13.5, 20.0), (1.705e6, -12.5, 30.0),
    (1.755e6, -11.5, 18.0), (1.805e6, -10.5, 25.0), (1.855e6, -9.5, 15.0), (1.905e6, -8.5, 22.0),
    (1.96e6, -9.0, 12.0), (2.015e6, -12.0, 18.0), (2.07e6, -14.0, 10.0), (2.13e6, -17.0, 14.0),
    (2.19e6, -20.0, 8.0), (3.45e6, 0.0, 27.7), (3.8e6, 0.0, 27.7), (4.0e6, 0.0, 28.0),
]
B_PINK_BAND = [
    (3.5e5, -10.0, -6.0), (4.5e5, -12.0, -5.5), (6.0e5, -14.0, -6.5), (8.0e5, -15.5, -7.5),
    (9.6e5, -16.0, -8.0), (1.0e6, -16.4, -6.0), (1.1e6, -17.0, -2.0), (1.2e6, -17.5, 0.0),
    (1.3e6, -18.0, 2.0), (1.45e6, -18.2, 3.0), (1.6e6, -15.0, 5.0), (1.75e6, -12.0, 6.0),
    (1.95e6, -8.1, 7.0), (2.1e6, -15.0, 8.0), (2.2e6, -21.0, 6.6), (2.53e6, -22.3, 2.0),
    (2.98e6, -21.0, 8.4), (3.3e6, -17.3, 19.4), (3.6e6, -13.0, 26.8), (4.1e6, -10.0, 27.7),
    (4.6e6, -12.5, 16.7), (5.1e6, -15.0, 13.0), (6.04e6, -18.0, 8.4), (6.7e6, -19.5, 5.6),
    (7.2e6, -18.5, 14.0), (8.0e6, -13.0, 12.5), (8.8e6, -8.1, 15.8), (9.5e6, -7.0, 14.0),
    (1.03e7, -6.3, 18.5), (1.12e7, -8.0, 15.0), (1.22e7, -9.9, 13.0), (1.32e7, -11.0, 16.5),
    (1.43e7, -13.0, 15.8), (1.51e7, -14.0, 9.0), (1.59e7, -14.5, 5.0), (1.72e7, -13.5, 9.5),
    (1.86e7, -12.7, 8.4), (1.95e7, -8.0, 12.0), (2.05e7, -4.4, 11.0), (2.2e7, -4.0, 14.0),
    (2.4e7, -3.5, 15.8), (2.55e7, -14.5, 10.0), (2.7e7, -5.0, 14.0), (2.82e7, 6.6, 15.8),
]
B_MARKS = [("black", 8.37e4, 68.1), ("pink", 8.37e4, 67.0), ("blue", 8.89e4, 47.3)]

LEGEND_LABELS = [
    "CM-Strom auf DC-Zuleitung: 0 cm",
    "CM-Strom auf DC-Zuleitung: 10 cm",
    r"H$_{\mathregular{X}}$: DC-Zuleitung 0 cm",
    r"H$_{\mathregular{X}}$: DC-Zuleitung 10 cm",
]
Y_TICKS = [-20, 0, 20, 40, 60]
CAPTIONS = ["(a) Best Case", "(b) Worst Case"]

# ---------------------------------------------------------------- style
COL = {"red": "#c9202a", "blue": "#1f8ff7", "black": "#000000", "pink": "#e6369f"}
ZO = {"red": 2, "blue": 3, "black": 4, "pink": 5}
AXC = "#262626"

sns.set_theme(style="ticks")
plt.rcParams["font.family"] = ["Liberation Sans", "DejaVu Sans"]
plt.rcParams["mathtext.fontset"] = "custom"
plt.rcParams["mathtext.rm"] = "Liberation Sans"
plt.rcParams["mathtext.it"] = "Liberation Sans:italic"
plt.rcParams["mathtext.bf"] = "Liberation Sans:bold"
plt.rcParams["axes.unicode_minus"] = False

W, H = 1213, 496
fig = plt.figure(figsize=(W / 100, H / 100), dpi=100)
fig.patch.set_facecolor("white")
ax_a = fig.add_axes([68 / W, 1 - 394.3 / H, 501 / W, 380.3 / H])
ax_b = fig.add_axes([714 / W, 1 - 394.3 / H, 498 / W, 380.3 / H])


def line(ax, pts, key):
    arr = np.array(pts, dtype=float)
    df = pd.DataFrame({"f": arr[:, 0], "v": arr[:, 1]})
    sns.lineplot(data=df, x="f", y="v", estimator=None, sort=False, color=COL[key],
                 lw=1.0, ax=ax, zorder=ZO[key])


def spikes(ax, pts, key, lw):
    arr = np.array(pts, dtype=float)
    ax.vlines(arr[:, 0], arr[:, 1], arr[:, 2], colors=COL[key], lw=lw, zorder=ZO[key])


def band(ax, pts, key):
    arr = np.array(pts, dtype=float)
    ax.fill_between(arr[:, 0], arr[:, 1], arr[:, 2], facecolor=COL[key], edgecolor=COL[key],
                    lw=0.6, zorder=ZO[key])


def panel(ax, xlim, layers, marks, caption_xy, caption):
    ax.set_xscale("log")
    ax.set_xlim(*xlim)
    ax.set_ylim(-35, 70)
    for key in ("red", "blue", "black", "pink"):
        ln, sp, bd = layers[key]
        if ln is not None:
            line(ax, ln, key)
        if bd is not None:
            band(ax, bd, key)
        if sp is not None:
            spikes(ax, sp, key, 1.3 if key in ("black", "pink") else 0.9)
    for key, fx, vy in marks:
        ax.plot([fx], [vy], marker="x", ms=5, mew=1.0, color=COL[key], ls="none", zorder=7)

    ax.set_facecolor("white")
    ax.set_yticks(Y_TICKS)
    ax.yaxis.set_minor_locator(MultipleLocator(5))
    ax.xaxis.set_major_locator(LogLocator(base=10, numticks=12))
    ax.xaxis.set_minor_locator(LogLocator(base=10, subs=np.arange(2, 10), numticks=40))
    ax.xaxis.set_minor_formatter(NullFormatter())
    ax.grid(which="major", color="#dcdcdc", lw=0.9, ls="-")
    ax.grid(which="minor", color="#c4c4c4", lw=0.7, ls=(0, (1, 2.5)))
    ax.set_axisbelow(True)
    ax.tick_params(which="both", direction="in", top=True, right=True, colors=AXC,
                   labelsize=14.5, labelcolor=AXC)
    ax.tick_params(which="major", length=5, width=0.8, pad=4)
    ax.tick_params(which="minor", length=3, width=0.6)
    for sp in ax.spines.values():
        sp.set_visible(True)
        sp.set_color(AXC)
        sp.set_linewidth(0.9)
    ax.set_xlabel("Frequenz / Hz", fontsize=15.6, color=AXC)
    ax.set_ylabel("CM-Strom / dBµA, H-Feld / dBµA/m", fontsize=15.8, color=AXC)
    ax.xaxis.set_label_coords(0.5, -0.095)
    ax.yaxis.set_label_coords(-0.074, 0.52)

    handles = [Line2D([], [], color=COL[k], lw=1.0) for k in ("red", "blue", "black", "pink")]
    leg = ax.legend(handles, LEGEND_LABELS, loc="upper right", bbox_to_anchor=(0.983, 0.977),
                    borderaxespad=0, fancybox=False, edgecolor=AXC, framealpha=1,
                    fontsize=12.4, handlelength=1.8, handletextpad=0.15, borderpad=0.52,
                    labelspacing=0.25)
    leg.get_frame().set_linewidth(0.8)
    leg.set_zorder(10)
    fig.text(caption_xy[0] / W, 1 - caption_xy[1] / H, caption, ha="center", va="center",
             fontsize=17.5, color="#111111")


panel(ax_a, (9.05e3, 2.98e7),
      {"red": (A_RED_LINE, A_RED_SPIKES, A_RED_BAND),
       "blue": (A_BLUE_LINE, A_BLUE_SPIKES, A_BLUE_BAND),
       "black": (A_BLACK_LINE, A_BLACK_FOREST, A_BLACK_BAND),
       "pink": (A_PINK_LINE, A_PINK_FOREST, A_PINK_BAND)},
      A_MARKS, (308, 479), CAPTIONS[0])
panel(ax_b, (8.93e3, 2.82e7),
      {"red": (B_RED_LINE, B_RED_SPIKES, B_RED_BAND),
       "blue": (B_BLUE_LINE, B_BLUE_SPIKES, B_BLUE_BAND),
       "black": (B_BLACK_LINE, B_BLACK_FOREST, B_BLACK_BAND),
       "pink": (B_PINK_LINE, B_PINK_FOREST, B_PINK_BAND)},
      B_MARKS, (954, 480), CAPTIONS[1])

fig.savefig("out.png", dpi=100, facecolor="white")
